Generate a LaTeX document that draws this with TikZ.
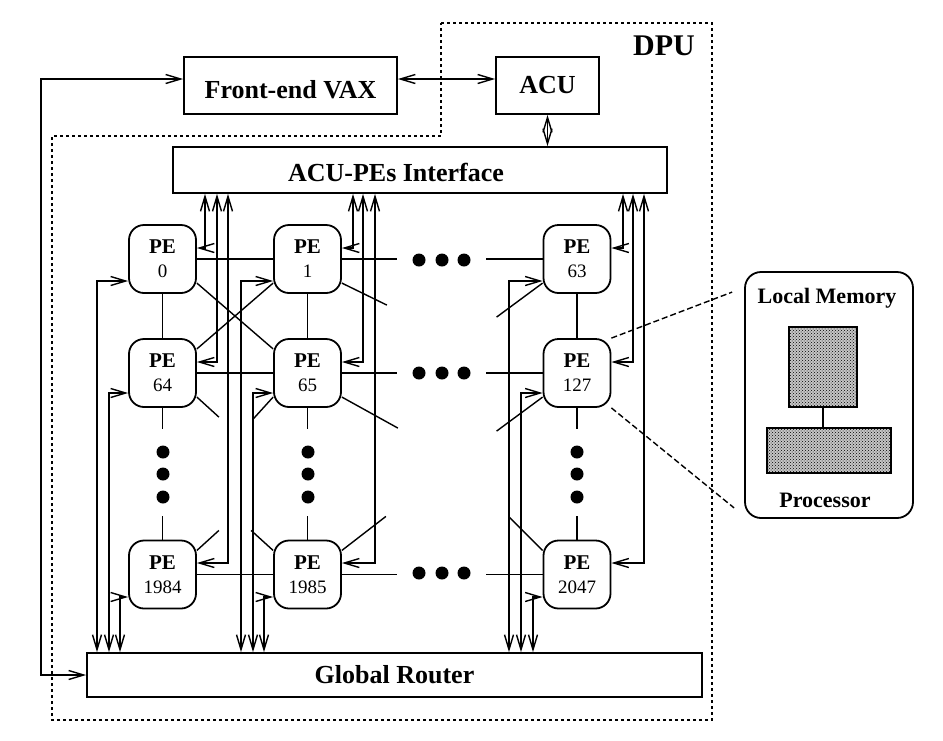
\documentclass[tikz,border=0pt]{standalone}
\usepackage{fontspec}
\setmainfont{Liberation Serif}
\usepackage{tikz}
\usepackage{xcolor}
\usetikzlibrary{arrows.meta,patterns}

\begin{document}
\begin{tikzpicture}[
    >={Straight Barb[length=15pt,width=9pt]},
    line width=1.4pt,
    bigfont/.style={font=\fontsize{26}{30}\selectfont\bfseries},
    box/.style={draw, line width=1.8pt, inner sep=0pt, bigfont},
    pe/.style={draw, line width=1.8pt, rounded corners=15pt, minimum width=67pt,
        minimum height=68pt, inner sep=0pt, align=center, font=\fontsize{19}{24}\selectfont},
    dpu/.style={dash pattern=on 3pt off 3pt, line width=1.6pt},
    zoomline/.style={dash pattern=on 6pt off 3pt, line width=1.4pt},
    chip/.style={draw, line width=1.5pt, fill=gray!45, postaction={pattern=crosshatch dots}, inner sep=0pt},
    bus/.style={<->}
]
    \useasboundingbox (0pt, 0pt) rectangle (943pt, -740pt);

    % Nodes
    \node[box, minimum width=213pt, minimum height=57pt, text height=26pt] (vax) at (290.5pt, -85.5pt) {Front-end VAX};
    \node[box, minimum width=103pt, minimum height=57pt] (acu) at (547.5pt, -85.5pt) {ACU};
    \node[box, minimum width=494pt, minimum height=46pt,
        label={[bigfont, xshift=-24pt, yshift=-2pt]center:ACU-PEs Interface}] (ifc) at (420pt, -170pt) {};
    \node[box, minimum width=615pt, minimum height=44pt] (rt) at (394.5pt, -675pt) {Global Router};
    \node[font=\fontsize{30}{34}\selectfont\bfseries] (dpu) at (664pt, -46pt) {DPU};

    \node[pe] (pe0) at (162.5pt, -259pt) {{\fontsize{21}{24}\selectfont\bfseries PE}\\0};
    \node[pe] (pe1) at (307.5pt, -259pt) {{\fontsize{21}{24}\selectfont\bfseries PE}\\1};
    \node[pe] (pe63) at (577pt, -259pt) {{\fontsize{21}{24}\selectfont\bfseries PE}\\63};

    \node[pe] (pe64) at (162.5pt, -373pt) {{\fontsize{21}{24}\selectfont\bfseries PE}\\64};
    \node[pe] (pe65) at (307.5pt, -373pt) {{\fontsize{21}{24}\selectfont\bfseries PE}\\65};
    \node[pe] (pe127) at (577pt, -373pt) {{\fontsize{21}{24}\selectfont\bfseries PE}\\127};

    \node[pe] (pe1984) at (162.5pt, -574.5pt) {{\fontsize{21}{24}\selectfont\bfseries PE}\\1984};
    \node[pe] (pe1985) at (307.5pt, -574.5pt) {{\fontsize{21}{24}\selectfont\bfseries PE}\\1985};
    \node[pe] (pe2047) at (577pt, -574.5pt) {{\fontsize{21}{24}\selectfont\bfseries PE}\\2047};

    % Zoomed PE
    \node[draw, line width=1.8pt, rounded corners=16pt, minimum width=168pt,
        minimum height=246pt] (mag) at (829pt, -395pt) {};
    \node[font=\fontsize{22}{26}\selectfont\bfseries] (memtxt) at (827pt, -298pt) {Local Memory};
    \node[chip, minimum width=68pt, minimum height=80pt] (mem) at (823pt, -367pt) {};
    \node[chip, minimum width=124pt, minimum height=45pt] (proc) at (829pt, -450.5pt) {};
    \node[font=\fontsize{22}{26}\selectfont\bfseries] (proctxt) at (825pt, -500pt) {Processor};

    % DPU outline
    \draw[dpu] (441pt, -23pt) -- (712pt, -23pt) -- (712pt, -720pt) -- (52pt, -720pt)
        -- (52pt, -136pt) -- (441pt, -136pt) -- cycle;

    % Lines
    \draw[bus] ([yshift=6.5pt]vax.east) -- ([yshift=6.5pt]acu.west);
    \draw[bus] ([yshift=6.5pt]vax.west) -| (rt.west -| 41pt,0) -- (rt.west);
    \draw[bus] (acu.south) -- (ifc.north -| acu.south);
    \draw (mem.south) -- (mem.south |- proc.north);

    % interface side
    \draw[bus] (ifc.south -| 205pt,0) |- ([yshift=11pt]pe0.east);
    \draw[bus] (ifc.south -| 217pt,0) |- ([yshift=11pt]pe64.east);
    \draw[bus] (ifc.south -| 228pt,0) |- ([yshift=11.5pt]pe1984.east);
    \draw[bus] (ifc.south -| 353pt,0) |- ([yshift=11pt]pe1.east);
    \draw[bus] (ifc.south -| 363pt,0) |- ([yshift=11pt]pe65.east);
    \draw[bus] (ifc.south -| 375pt,0) |- ([yshift=11.5pt]pe1985.east);
    \draw[bus] (ifc.south -| 623pt,0) |- ([yshift=11pt]pe63.east);
    \draw[bus] (ifc.south -| 633pt,0) |- ([yshift=11pt]pe127.east);
    \draw[bus] (ifc.south -| 644pt,0) |- ([yshift=11.5pt]pe2047.east);

    % router side
    \draw[bus] (rt.north -| 97pt,0) |- ([yshift=-22pt]pe0.west);
    \draw[bus] (rt.north -| 109pt,0) |- ([yshift=-20pt]pe64.west);
    \draw[bus] (rt.north -| 120pt,0) |- ([yshift=-22.5pt]pe1984.west);
    \draw[bus] (rt.north -| 241pt,0) |- ([yshift=-22pt]pe1.west);
    \draw[bus] (rt.north -| 253pt,0) |- ([yshift=-20pt]pe65.west);
    \draw[bus] (rt.north -| 264pt,0) |- ([yshift=-22.5pt]pe1985.west);
    \draw[bus] (rt.north -| 509pt,0) |- ([yshift=-22pt]pe63.west);
    \draw[bus] (rt.north -| 521pt,0) |- ([yshift=-20pt]pe127.west);
    \draw[bus] (rt.north -| 533pt,0) |- ([yshift=-22.5pt]pe2047.west);

    % rows
    \draw (pe0) -- (pe1);
    \draw (pe1.east) -- ++(55pt, 0);
    \draw (pe63.west) -- ++(-57pt, 0);
    \draw (pe64) -- (pe65);
    \draw (pe65.east) -- ++(55pt, 0);
    \draw (pe127.west) -- ++(-57pt, 0);
    \draw (pe1984) -- (pe1985);
    \draw (pe1985.east) -- ++(55pt, 0);
    \draw (pe2047.west) -- ++(-57pt, 0);

    % columns
    \draw (pe0) -- (pe64);
    \draw (pe1) -- (pe65);
    \draw (pe63) -- (pe127);
    \draw (pe64.south) -- ++(0, -21pt);
    \draw (pe65.south) -- ++(0, -21pt);
    \draw (pe127.south) -- ++(0, -21pt);
    \draw (pe1984.north) -- ++(0, 24pt);
    \draw (pe1985.north) -- ++(0, 24pt);
    \draw (pe2047.north) -- ++(0, 24pt);

    % diagonals
    \draw (pe0.-35) -- (pe65.145);
    \draw (pe64.35) -- (pe1.-145);
    \draw (pe1.-35) -- ++(45pt, -22pt);
    \draw (pe65.-35) -- ++(56pt, -31pt);
    \draw (pe64.-35) -- ++(22pt, -20pt);
    \draw (pe65.-145) -- ++(-20pt, -22pt);
    \draw (pe63.-145) -- ++(-46pt, -34pt);
    \draw (pe127.-145) -- ++(-46pt, -34pt);
    \draw (pe1984.35) -- ++(22pt, 20pt);
    \draw (pe1985.35) -- ++(44pt, 34pt);
    \draw (pe1985.145) -- ++(-22pt, 20pt);
    \draw (pe2047.145) -- ++(-34pt, 34pt);

    % dots
    \foreach \y in {-260pt, -373pt, -573pt}
        \foreach \x in {419pt, 442pt, 464pt}
            \fill (\x, \y) circle (6.5pt);
    \foreach \x in {163pt, 308pt, 577pt}
        \foreach \y in {-452pt, -474pt, -497pt}
            \fill (\x, \y) circle (6.5pt);

    % zoom
    \draw[zoomline] (pe127.north east) -- ([shift={(-12pt,-21pt)}]mag.north west);
    \draw[zoomline] (pe127.south east) -- ([shift={(-10pt,11pt)}]mag.south west);

\end{tikzpicture}
\end{document}
